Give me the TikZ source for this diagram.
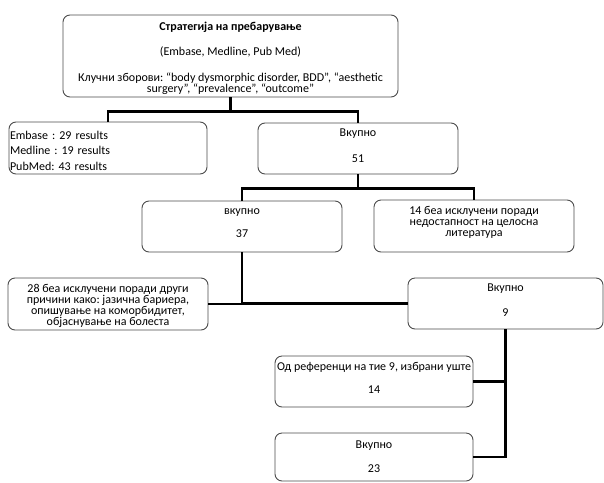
\documentclass[tikz,border=0pt]{standalone}
\usepackage{fontspec}
\setmainfont{Carlito}
\usepackage{tikz}
\usetikzlibrary{positioning, calc}
\frenchspacing

% invisible struts to nudge text up or down inside a box
\newcommand{\padbelow}[1]{\rule[-#1]{0pt}{0pt}}
\newcommand{\padabove}[1]{\rule{0pt}{#1}}

\tikzset{
  box/.style={draw=black!70, line width=0.9pt, rounded corners=7pt, fill=white,
    inner sep=1pt, align=center, font=\fontsize{12}{11}\selectfont},
  link/.style={line width=2.6pt, black}
}

\begin{document}
\begin{tikzpicture}[x=1pt, y=-1pt]
\useasboundingbox (0,0) rectangle (604,482);
% Search strategy
\node[box, minimum width=335, minimum height=82] (strat) at (230.5,56)
  {\padabove{14pt}\textbf{Стратегија на пребарување}\\[14pt]
   (Embase, Medline, Pub Med)\\[15pt]
   Клучни зборови: “body dysmorphic disorder, BDD”, “aesthetic\\
   surgery”, “prevalence”, “outcome”};
% Databases
\node[box, minimum height=52, text width=196, align=left,
  font=\fontsize{12}{15.5}\selectfont] (dbase) at (108,148)
  {\padabove{14pt}Embase : 29 results\\ Medline : 19 results\\ PubMed: 43 results};
\node[box, minimum width=200, minimum height=51] (tot51) at (358,148.5)
  {Вкупно\\[15pt]51\padbelow{6pt}};
% After first screening
\node[box, minimum width=200, minimum height=51] (tot37) at (242,226.5)
  {вкупно\\[12pt]37\padbelow{7pt}};
\node[box, minimum width=200, minimum height=52] (excl14) at (474,226)
  {14 беа исклучени поради\\ недостапност на целосна\\ литература\padbelow{9pt}};
% After second screening
\node[box, minimum width=200, minimum height=52,
  font=\fontsize{12}{9.5}\selectfont] (excl28) at (108,304)
  {\padabove{12pt}28 беа исклучени поради други\\ причини како: јазична бариера,\\
   опишување на коморбидитет,\\ објаснување на болеста};
\node[box, minimum width=195, minimum height=51] (tot9) at (505.5,303.5)
  {Вкупно\\[14pt]9\padbelow{6pt}};
% References
\node[box, minimum width=198, minimum height=51] (ref14) at (374,381.5)
  {Од референци на тие 9, избрани уште\\[12pt]14\padbelow{8pt}};
\node[box, minimum width=198, minimum height=48] (tot23) at (374,457)
  {Вкупно\\[13pt]23};

% Connectors
\coordinate (j1) at ($(strat.south)+(0,14)$);
\draw[link] (strat.south) -- (j1) -| (dbase.north);
\draw[link] (j1) -| (tot51.north);
\coordinate (j2) at ($(tot51.south)+(0,14)$);
\draw[link] (tot51.south) -- (j2) -| (tot37.north);
\draw[link] (j2) -| (excl14.north);
\draw[link] (tot37.south) |- (excl28.east);
\draw[link] (tot37.south) |- (tot9.west);
\draw[link] (tot9.south) |- (ref14.east);
\draw[link] (tot9.south) |- (tot23.east);
\end{tikzpicture}
\end{document}
